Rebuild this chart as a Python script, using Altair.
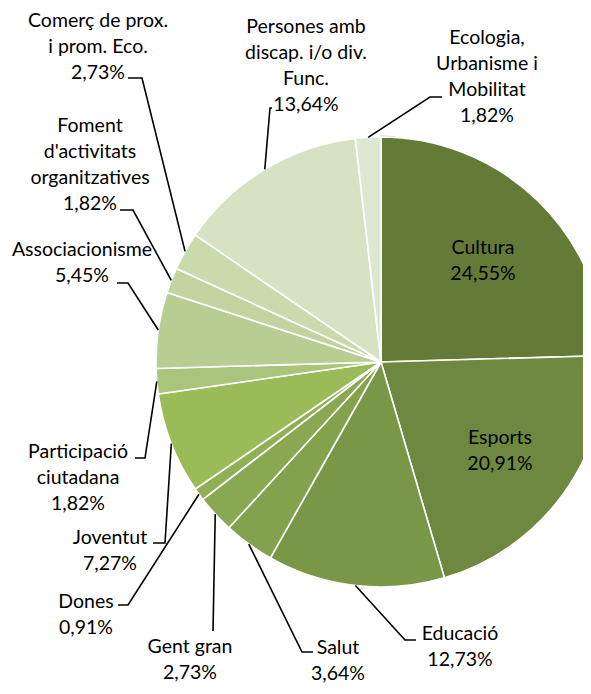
import math
import altair as alt
import pandas as pd

# ---- data ----
categories = ["Cultura", "Esports", "Educació", "Salut", "Gent gran", "Dones", "Joventut",
              "Participació ciutadana", "Associacionisme",
              "Foment d'activitats organitzatives", "Comerç de prox. i prom. Eco.",
              "Persones amb discap. i/o div. Func.", "Ecologia, Urbanisme i Mobilitat"]
values = [24.55, 20.91, 12.73, 3.64, 2.73, 0.91, 7.27, 1.82, 5.45, 1.82, 2.73, 13.64, 1.82]
label_lines = [["Cultura"], ["Esports"], ["Educació"], ["Salut"], ["Gent gran"], ["Dones"],
               ["Joventut"], ["Participació", "ciutadana"], ["Associacionisme"],
               ["Foment", "d'activitats", "organitzatives"], ["Comerç de prox.", "i prom. Eco."],
               ["Persones amb", "discap. i/o div.", "Func."],
               ["Ecologia,", "Urbanisme i", "Mobilitat"]]
colors = ["#647b38", "#6e893f", "#7a9647", "#84a14e", "#8aa852", "#91af55", "#9bbb59",
          "#aac47b", "#b7cd91", "#c1d4a0", "#c9daad", "#d6e2c2", "#dee8d0"]

# ---- layout (page pixel coordinates) ----
W, H = 575, 678
CX, CY, R = 381, 362, 225
LINE_H = 26
FONT = "Lato"
FS = 19.5
# text centre x, first line y, elbow point, end point (None = inside label)
layout = [
    (483, 248, None, None),
    (500, 438, None, None),
    (460, 634, (405, 640), (416, 640)),
    (338, 648, (302, 652), (313, 652)),
    (190, 647, (213, 631), (213, 631)),
    (86, 602, (128, 605), (118, 605)),
    (110, 538, (165, 543), (153, 543)),
    (78, 452, (145, 458), (135, 458)),
    (82, 250, (128, 283), (117, 283)),
    (90, 126, (133, 210), (120, 210)),
    (98, 21, (142, 78), (128, 78)),
    (306, 27, (270, 108), (272, 108)),
    (487, 38, (430, 97), (442, 97)),
]

pie_df = pd.DataFrame({"cat": categories, "value": values, "idx": list(range(len(values)))})

text_rows = []
line_rows = []
total = sum(values)
cum = 0.0
for i, (cat, v) in enumerate(zip(categories, values)):
    mid = (cum + v / 2) / total * 2 * math.pi
    cum += v
    tx, ty, elbow, end = layout[i]
    pct = f"{v:.2f}".replace(".", ",") + "%"
    lines = label_lines[i] + [pct]
    for j, s in enumerate(lines):
        text_rows.append({"x": tx, "y": ty + j * LINE_H, "t": s})
    if elbow is not None:
        ex = CX + R * math.sin(mid)
        ey = CY - R * math.cos(mid)
        for k, (px, py) in enumerate([(ex, ey), elbow, end]):
            line_rows.append({"x": px, "y": py, "k": k, "g": cat})

text_df = pd.DataFrame(text_rows)
line_df = pd.DataFrame(line_rows)

xs = alt.Scale(domain=[8, 8 + W], range=[0, W])
ys = alt.Scale(domain=[8, 8 + H], range=[0, H])

shadow = alt.Chart(pd.DataFrame({"v": [1]})).mark_arc(
    outerRadius=R + 1.5, color="#c8c8c8"
).encode(theta=alt.Theta("v:Q"), x=alt.value(CX - 8), y=alt.value(CY - 8))

pie = alt.Chart(pie_df).mark_arc(
    outerRadius=R, stroke="white", strokeWidth=1.6
).encode(
    theta=alt.Theta("value:Q", stack=True),
    order=alt.Order("idx:Q"),
    color=alt.Color("cat:N", scale=alt.Scale(domain=categories, range=colors), legend=None),
    x=alt.value(CX - 8),
    y=alt.value(CY - 8),
)

leaders = alt.Chart(line_df).mark_line(color="black", strokeWidth=1.6).encode(
    x=alt.X("x:Q", scale=xs, axis=None),
    y=alt.Y("y:Q", scale=ys, axis=None),
    order="k:Q",
    detail="g:N",
)

labels = alt.Chart(text_df).mark_text(
    font=FONT, fontSize=FS, color="black", align="center", baseline="middle"
).encode(
    x=alt.X("x:Q", scale=xs, axis=None),
    y=alt.Y("y:Q", scale=ys, axis=None),
    text="t:N",
)

chart = alt.layer(shadow, pie, leaders, labels).properties(
    width=W, height=H, padding=0, autosize=alt.AutoSizeParams(type="none")
).configure_view(stroke=None)

chart.save("out.html", embed_options={"renderer": "svg", "actions": False})
